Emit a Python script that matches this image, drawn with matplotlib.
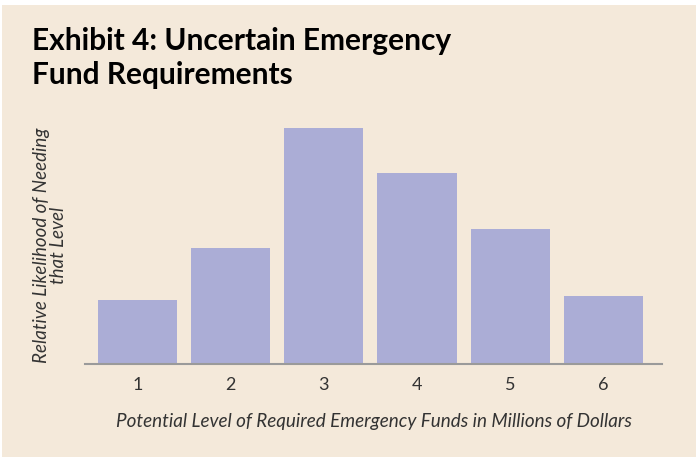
import matplotlib
matplotlib.use("Agg")
import matplotlib.pyplot as plt
from matplotlib.patches import Rectangle

# Data (relative heights, tallest = 1)
levels = [1, 2, 3, 4, 5, 6]
likelihood = [0.27, 0.49, 1.0, 0.81, 0.57, 0.29]
tick_labels = ["1", "2", "3", "4", "5", "6"]

bg = "#F4E9DA"
bar_color = "#ABADD6"

fig = plt.figure(figsize=(6.96, 4.6), dpi=100)
fig.patch.set_facecolor("white")
# beige panel behind everything
fig.patches.append(Rectangle((2 / 696, 2 / 460), 1 - 2 / 696, 452 / 460,
                             transform=fig.transFigure, facecolor=bg,
                             edgecolor="none", zorder=-5))

ax = fig.add_axes([85 / 696, 1 - 365 / 460, (662 - 85) / 696, (365 - 129) / 460])
ax.set_facecolor("none")
ax.bar(levels, likelihood, width=0.85, color=bar_color)
ax.set_xlim(0.435, 6.63)
ax.set_ylim(0, 1.0)

for s in ["top", "right", "left"]:
    ax.spines[s].set_visible(False)
ax.spines["bottom"].set_color("#9a9a9a")
ax.spines["bottom"].set_linewidth(1.5)
ax.set_yticks([])
ax.set_xticks(levels)
ax.set_xticklabels(tick_labels, fontsize=13, color="#333333", family="Lato")
ax.tick_params(axis="x", length=0, pad=9)

ax.set_xlabel("Potential Level of Required Emergency Funds in Millions of Dollars",
              fontsize=13.6, style="italic", color="#333333", family="Lato",
              labelpad=14)

fig.text(50 / 696, 1 - 245 / 460, "Relative Likelihood of Needing\nthat Level",
         rotation=90, ha="center", va="center", multialignment="center",
         fontsize=13.5, style="italic", color="#333333", family="Lato",
         linespacing=1.0)

fig.text(32 / 696, 1 - 27 / 460, "Exhibit 4: Uncertain Emergency\nFund Requirements",
         ha="left", va="top", fontsize=21.5, fontweight="bold", color="black",
         family="Lato", linespacing=1.28)

fig.savefig("out.png", dpi=100, facecolor=fig.get_facecolor())
